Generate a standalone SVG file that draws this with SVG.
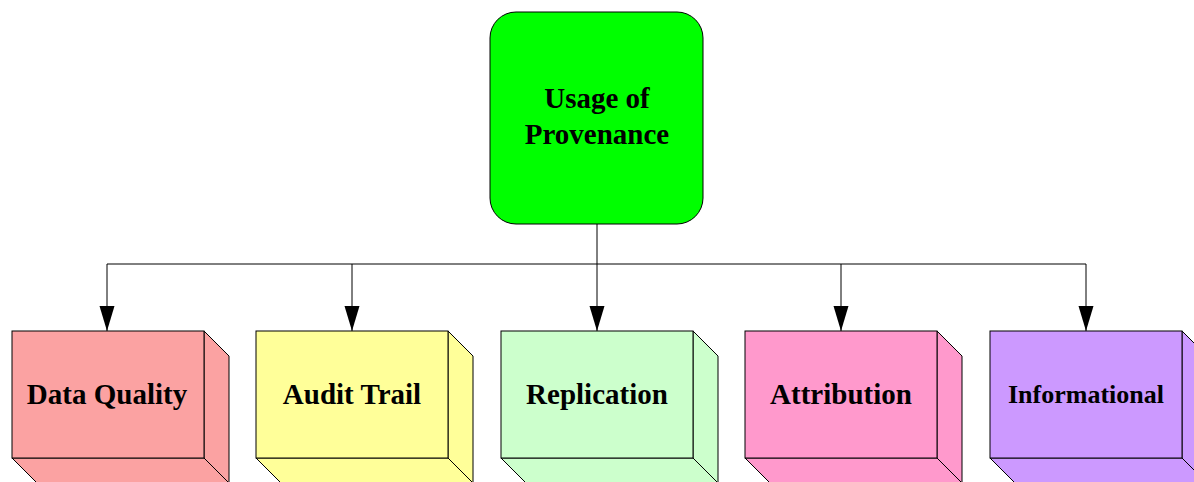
<svg xmlns="http://www.w3.org/2000/svg" width="1194" height="482" viewBox="0 0 1194 482">
<style>
.e{stroke:#000;stroke-width:1;stroke-linejoin:miter}
.t{font-family:"Liberation Serif","Times New Roman",serif;font-weight:bold;font-size:29px;text-anchor:middle;fill:#000}
.c{fill:none;stroke:#000;stroke-width:1}
</style>
<defs>
<marker id="ah" markerWidth="25" markerHeight="16" refX="25" refY="8" orient="auto" markerUnits="userSpaceOnUse" viewBox="0 0 25 16">
<path d="M0,0.5 L25,8 L0,15.5 z" fill="#000"/>
</marker>
</defs>
<rect width="1194" height="482" fill="#fff"/>
<g id="connectors">
<path class="c" d="M597,224 V264"/>
<path class="c" d="M107,264 H1086"/>
<path class="c" d="M107,264 V331" marker-end="url(#ah)"/>
<path class="c" d="M352,264 V331" marker-end="url(#ah)"/>
<path class="c" d="M597,264 V331" marker-end="url(#ah)"/>
<path class="c" d="M841,264 V331" marker-end="url(#ah)"/>
<path class="c" d="M1086,264 V331" marker-end="url(#ah)"/>
</g>
<g id="usage">
<rect class="e" x="490" y="12" width="213" height="212" rx="26" ry="26" fill="#00ff00"/>
<text class="t" x="597" y="108">Usage of</text>
<text class="t" x="597" y="144">Provenance</text>
</g>
<g id="dataquality" fill="#fba2a2">
<path class="e" d="M204,331 L229,356 V483 L204,458 Z"/>
<path class="e" d="M12,458 H204 L229,483 H37 Z"/>
<rect class="e" x="12" y="331" width="192" height="127"/>
<text class="t" x="107" y="404">Data Quality</text>
</g>
<g id="audittrail" fill="#ffff99">
<path class="e" d="M448,331 L473,356 V483 L448,458 Z"/>
<path class="e" d="M256,458 H448 L473,483 H281 Z"/>
<rect class="e" x="256" y="331" width="192" height="127"/>
<text class="t" x="352" y="404">Audit Trail</text>
</g>
<g id="replication" fill="#ccffcc">
<path class="e" d="M693,331 L718,356 V483 L693,458 Z"/>
<path class="e" d="M501,458 H693 L718,483 H526 Z"/>
<rect class="e" x="501" y="331" width="192" height="127"/>
<text class="t" x="597" y="404">Replication</text>
</g>
<g id="attribution" fill="#ff99cc">
<path class="e" d="M937,331 L962,356 V483 L937,458 Z"/>
<path class="e" d="M745,458 H937 L962,483 H770 Z"/>
<rect class="e" x="745" y="331" width="192" height="127"/>
<text class="t" x="841" y="404">Attribution</text>
</g>
<g id="informational" fill="#cc99ff">
<path class="e" d="M1182,331 L1207,356 V483 L1182,458 Z"/>
<path class="e" d="M990,458 H1182 L1207,483 H1015 Z"/>
<rect class="e" x="990" y="331" width="192" height="127"/>
<text class="t" x="1086" y="403" style="font-size:26px">Informational</text>
</g>
</svg>
